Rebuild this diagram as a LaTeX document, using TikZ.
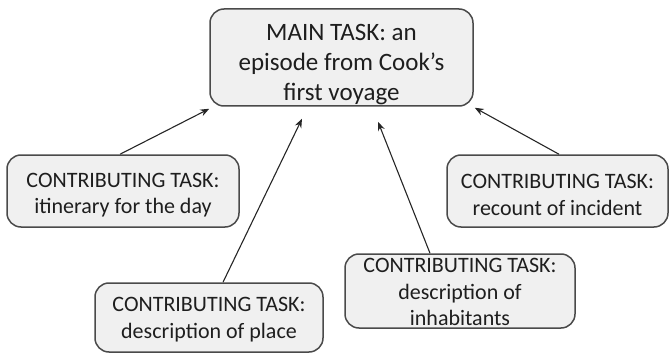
\documentclass[tikz,border=0pt]{standalone}
\usepackage{fontspec}
\setmainfont{Carlito}
\usetikzlibrary{arrows.meta,calc}
\definecolor{boxfill}{HTML}{F0F0F0}
\definecolor{boxline}{HTML}{4A4A4A}
\definecolor{inktext}{HTML}{1E1E1E}
\tikzset{
  taskbox/.style={draw=boxline, fill=boxfill, line width=1.5pt,
    rounded corners=14pt, inner sep=0pt},
  tasktext/.style={align=center, inner sep=0pt, text=inktext},
  maintext/.style={tasktext, font=\fontsize{25}{30}\selectfont},
  subtext/.style={tasktext, font=\fontsize{22}{26.5}\selectfont},
  link/.style={draw=black!85, line width=1.1pt, -{Stealth[length=9pt,width=7pt]}}
}
\begin{document}
\begin{tikzpicture}[x=1pt,y=-1pt]
  \useasboundingbox (0,0) rectangle (670,353);
  % central task
  \node[taskbox, minimum width=263, minimum height=97] (main) at (341.5,57.5) {};
  \node[maintext] (mainlbl) at ([yshift=-7pt]main.center)
    {MAIN TASK: an\\episode from Cook’s\\first voyage};
  % contributing tasks
  \node[taskbox, minimum width=232, minimum height=72] (itin) at (123,191) {};
  \node[subtext] (itinlbl) at ([yshift=-4pt]itin.center)
    {CONTRIBUTING TASK:\\itinerary for the day};
  \node[taskbox, minimum width=228, minimum height=69] (place) at (209,317.5) {};
  \node[subtext] (placelbl) at ([yshift=-2pt]place.center)
    {CONTRIBUTING TASK:\\description of place};
  \node[taskbox, minimum width=230, minimum height=74] (inhab) at (460,291) {};
  \node[subtext] (inhablbl) at ([yshift=-1pt]inhab.center)
    {CONTRIBUTING TASK:\\description of\\inhabitants};
  \node[taskbox, minimum width=221, minimum height=72] (incid) at (557.5,191) {};
  \node[subtext] (incidlbl) at ([yshift=-4pt]incid.center)
    {CONTRIBUTING TASK:\\recount of incident};
  % connectors
  \draw[link] ([xshift=-3pt]itin.north) -- ([yshift=-2pt]main.south west);
  \draw[link] ([xshift=14pt]place.north) -- ($(main.south)+(-39.5,12)$);
  \draw[link] ([xshift=-30pt]inhab.north) -- ($(main.south)+(36.5,15)$);
  \draw[link] ([xshift=1.5pt]incid.north) -- ([xshift=1pt,yshift=-1pt]main.south east);
\end{tikzpicture}
\end{document}
